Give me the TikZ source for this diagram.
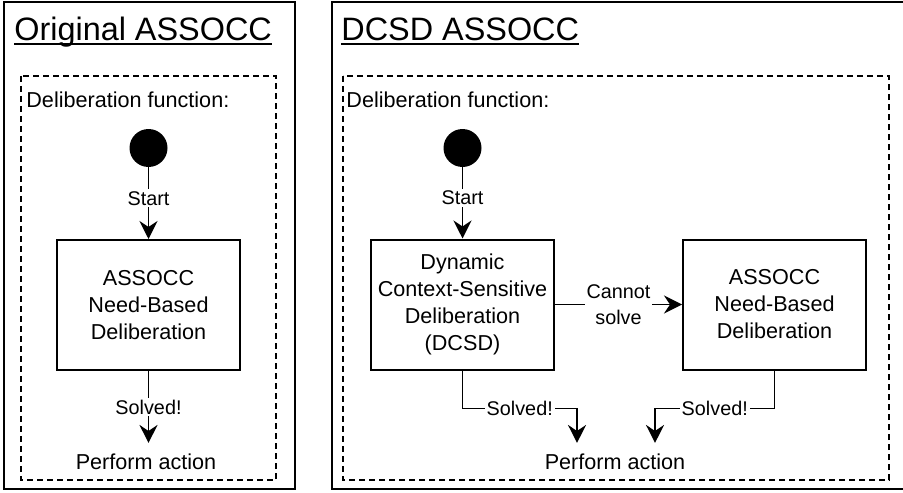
\documentclass[tikz,border=0pt]{standalone}
\usepackage{fontspec}
\setsansfont{Liberation Sans}
\usetikzlibrary{positioning,arrows.meta}
\newcommand{\ulbar}[1]{\setbox0\hbox{#1}\rlap{\vrule height -0.9pt depth 2.1pt width \wd0}\box0}
\tikzset{
    base/.style={font=\sffamily\fontsize{10.8}{13.5}\selectfont, align=center},
    title/.style={font=\sffamily\fontsize{16.2}{19}\selectfont, anchor=base west, inner sep=0pt},
    panel/.style={draw=black, line width=1pt},
    deliframe/.style={draw=black, line width=0.9pt, dash pattern=on 3pt off 2pt},
    startdot/.style={circle, fill=black, minimum size=19pt, inner sep=0pt},
    block/.style={base, rectangle, draw=black, line width=1pt,
                  minimum width=91.5pt, minimum height=65pt, inner sep=2pt},
    flow/.style={-{Stealth[length=9pt, width=9pt, inset=3pt]}, line width=0.9pt},
    lbl/.style={font=\sffamily\fontsize{9.9}{13}\selectfont, align=center, fill=white, inner sep=1pt},
    caption/.style={base, anchor=base west, inner sep=0pt},
    outcome/.style={base, anchor=base, inner sep=5pt}
}
\begin{document}
\begin{tikzpicture}[x=0.5pt, y=-0.5pt]
  \path[use as bounding box, fill=white] (0,0) rectangle (903,492);

  % Original ASSOCC
  \draw[panel] (4,2) rectangle (295,489);
  \node[title] (ttl1) at (14,41) {\ulbar{Original ASSOCC}};
  \draw[deliframe] (21,76) rectangle (276,480);
  \node[caption] (cap1) at (26,107) {Deliberation function:};
  \node[startdot] (go1) at (148.5,148) {};
  \node[block] (need1) at (148.5,305) {ASSOCC\\Need-Based\\Deliberation};
  \node[outcome] (act1) at (146,469) {Perform action};
  \draw[flow] (go1) -- node[lbl, pos=.43] {Start} (need1);
  \draw[flow] (need1) -- node[lbl] {Solved!} (need1.south |- act1.north);

  % DCSD ASSOCC
  \draw[panel] (332,2) rectangle (906,489);
  \node[title] (ttl2) at (341,41) {\ulbar{DCSD ASSOCC}};
  \draw[deliframe] (343,76) rectangle (889,480);
  \node[caption] (cap2) at (346,107) {Deliberation function:};
  \node[startdot] (go2) at (462.5,148) {};
  \node[block] (dcsd) at (462.5,304.5) {Dynamic\\Context-Sensitive\\Deliberation\\(DCSD)};
  \node[block, right=63.5pt of dcsd] (need2) {ASSOCC\\Need-Based\\Deliberation};
  \node[outcome] (act2) at (615,469) {Perform action};
  \draw[flow] (go2) -- node[lbl, pos=.43] {Start} (dcsd);
  \draw[flow] (dcsd) -- node[lbl] {Cannot\\solve} (need2);
  \draw[flow] (dcsd.south) -- ++(0,38) -| node[lbl, pos=.25] {Solved!} ([xshift=-19pt]act2.north);
  \draw[flow] (need2.south) -- ++(0,38) -| node[lbl, pos=.25] {Solved!} ([xshift=20pt]act2.north);
\end{tikzpicture}
\end{document}
